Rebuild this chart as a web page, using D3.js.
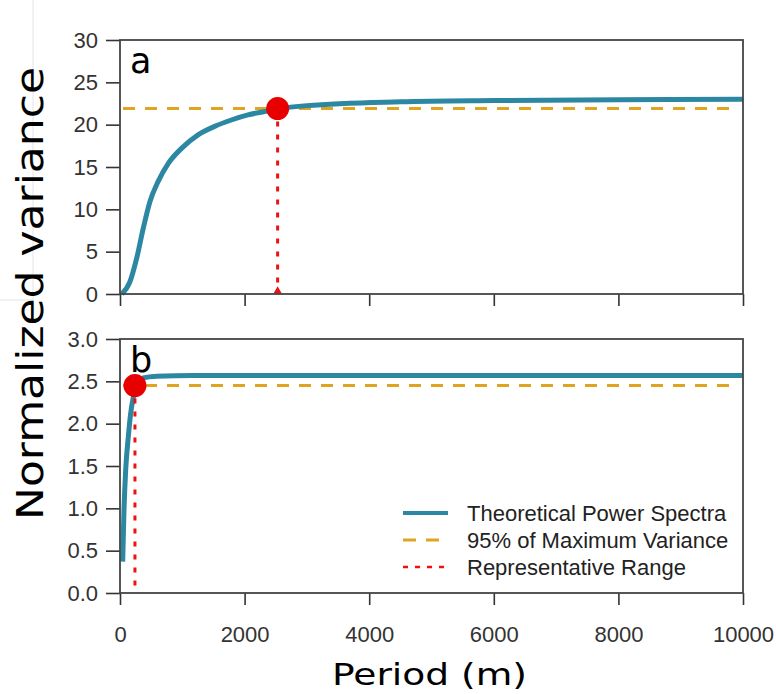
<!DOCTYPE html>
<html>
<head>
<meta charset="utf-8">
<script src="https://cdn.jsdelivr.net/npm/d3@7"></script>
<style>
  html, body { margin: 0; padding: 0; background: #fff; }
  svg { display: block; }
</style>
</head>
<body>
<svg id="chart" width="776" height="694"></svg>
<script>
// ── Data ─────────────────────────────────────────────────────────────────
// panel a: theoretical power spectrum (period m, normalized variance)
const periodA   = [30, 160, 267, 373, 480, 613, 773, 987, 1253, 1520, 1787, 2053, 2320, 2530, 3000, 4500, 6000, 8000, 10000];
const varianceA = [0, 1.45, 4.2, 7.75, 10.9, 13.3, 15.4, 17.2, 18.8, 19.8, 20.55, 21.15, 21.55, 21.85, 22.25, 22.7, 22.85, 22.95, 23.0];
const thresholdA = 21.9;          // 95% of maximum variance
const rangeA     = [2530, 21.9];  // representative range point

// panel b
const periodB   = [43, 64, 91, 134, 171, 214, 267, 373, 587, 1173, 3000, 6000, 10000];
const varianceB = [0.37, 0.98, 1.45, 1.85, 2.12, 2.31, 2.46, 2.54, 2.56, 2.57, 2.57, 2.57, 2.57];
const thresholdB = 2.45;
const rangeB     = [240, 2.45];

const xTicks  = [0, 2000, 4000, 6000, 8000, 10000];
const yTicksA = [0, 5, 10, 15, 20, 25, 30];
const yTicksB = [0, 0.5, 1.0, 1.5, 2.0, 2.5, 3.0];

const legendItems = ['Theoretical Power Spectra', '95% of Maximum Variance', 'Representative Range'];

// ── Styles ───────────────────────────────────────────────────────────────
const TEAL = '#2c87a3';
const GOLD = '#e0a520';
const RED  = '#ee1111';
const DOT  = '#e80000';
const AXIS = '#333';
const TICK_FONT = '"Liberation Sans", Arial, sans-serif';
const LABEL_FONT = '"DejaVu Sans", Verdana, sans-serif';

const svg = d3.select('#chart');

// faint scan artefacts seen in the reference
svg.append('line').attr('x1', 33).attr('x2', 33).attr('y1', 0).attr('y2', 300)
  .attr('stroke', '#e4e4e4').attr('stroke-width', 1);
svg.append('line').attr('x1', 0).attr('x2', 33).attr('y1', 300).attr('y2', 300)
  .attr('stroke', '#e4e4e4').attr('stroke-width', 1);

const x = d3.scaleLinear().domain([0, 10000]).range([120, 743]);

const panels = [
  { label: 'a', top: 40,  bottom: 294, ymax: 30, ticks: yTicksA, fmt: d3.format('d'),
    px: periodA, py: varianceA, thr: thresholdA, pt: rangeA, xLabels: false },
  { label: 'b', top: 339, bottom: 593, ymax: 3, ticks: yTicksB, fmt: d3.format('.1f'),
    px: periodB, py: varianceB, thr: thresholdB, pt: rangeB, xLabels: true }
];

panels.forEach(p => {
  const y = d3.scaleLinear().domain([0, p.ymax]).range([p.bottom, p.top]);
  const g = svg.append('g');

  // y axis
  const yAxis = g.append('g')
    .attr('transform', `translate(${x(0)},0)`)
    .call(d3.axisLeft(y).tickValues(p.ticks).tickFormat(p.fmt)
      .tickSize(14).tickSizeOuter(0).tickPadding(8));
  yAxis.select('.domain').remove();

  // x axis
  const xAxis = g.append('g')
    .attr('transform', `translate(0,${p.bottom})`)
    .call(d3.axisBottom(x).tickValues(xTicks)
      .tickFormat(p.xLabels ? d3.format('d') : () => '')
      .tickSize(12).tickSizeOuter(0).tickPadding(21));
  xAxis.select('.domain').remove();

  [yAxis, xAxis].forEach(a => {
    a.selectAll('.tick line').attr('stroke', AXIS).attr('stroke-width', 1.6);
    a.selectAll('.tick text')
      .attr('fill', '#333')
      .style('font-family', TICK_FONT)
      .style('font-size', '22px');
  });

  // threshold (dashed gold)
  g.append('line')
    .attr('x1', x(0) + 3).attr('x2', x(9850))
    .attr('y1', y(p.thr)).attr('y2', y(p.thr))
    .attr('stroke', GOLD).attr('stroke-width', 3)
    .attr('stroke-dasharray', '12 10');

  // spectrum curve
  const line = d3.line()
    .x((d, i) => x(p.px[i]))
    .y(d => y(d))
    .curve(d3.curveMonotoneX);
  g.append('path')
    .datum(p.py)
    .attr('d', line)
    .attr('fill', 'none')
    .attr('stroke', TEAL)
    .attr('stroke-width', 5)
    .attr('stroke-linecap', 'butt');

  // representative range (dotted red)
  g.append('line')
    .attr('x1', x(p.pt[0])).attr('x2', x(p.pt[0]))
    .attr('y1', y(p.pt[1])).attr('y2', y(0))
    .attr('stroke', RED).attr('stroke-width', 3)
    .attr('stroke-dasharray', '5 8');
  if (p.label === 'a') {
    g.append('path')
      .attr('d', d3.symbol(d3.symbolTriangle, 30)())
      .attr('transform', `translate(${x(p.pt[0])},${y(0) - 3})`)
      .attr('fill', RED);
  }
  g.append('circle')
    .attr('cx', x(p.pt[0])).attr('cy', y(p.pt[1]))
    .attr('r', 11.5)
    .attr('fill', DOT);

  // frame
  g.append('rect')
    .attr('x', x(0)).attr('y', p.top)
    .attr('width', x(10000) - x(0)).attr('height', p.bottom - p.top)
    .attr('fill', 'none').attr('stroke', '#444').attr('stroke-width', 1.8);

  // panel letter
  g.append('text')
    .attr('x', 130).attr('y', p.top + 33)
    .style('font-family', LABEL_FONT)
    .style('font-size', '35px')
    .attr('fill', '#000')
    .text(p.label);
});

// ── Legend (panel b) ──────────────────────────────────────────────────────
const legendY = [513, 540, 567];
const legendStyle = [
  { stroke: TEAL, width: 4,   dash: null },
  { stroke: GOLD, width: 3,   dash: '13 10' },
  { stroke: RED,  width: 2.5, dash: '5 7' }
];
const legend = svg.append('g');
legendItems.forEach((t, i) => {
  legend.append('line')
    .attr('x1', 403).attr('x2', 448)
    .attr('y1', legendY[i]).attr('y2', legendY[i])
    .attr('stroke', legendStyle[i].stroke)
    .attr('stroke-width', legendStyle[i].width)
    .attr('stroke-dasharray', legendStyle[i].dash);
  legend.append('text')
    .attr('x', 467).attr('y', legendY[i] + 8)
    .style('font-family', TICK_FONT)
    .style('font-size', '22px')
    .attr('fill', '#222')
    .text(t);
});

// ── Axis titles ───────────────────────────────────────────────────────────
svg.append('text')
  .attr('transform', 'translate(43,293.5) rotate(-90)')
  .attr('text-anchor', 'middle')
  .attr('textLength', 453)
  .attr('lengthAdjust', 'spacingAndGlyphs')
  .style('font-family', LABEL_FONT)
  .style('font-size', '38px')
  .attr('fill', '#000')
  .text('Normalized variance');

svg.append('text')
  .attr('x', 429.5).attr('y', 685)
  .attr('text-anchor', 'middle')
  .attr('textLength', 195)
  .attr('lengthAdjust', 'spacingAndGlyphs')
  .style('font-family', LABEL_FONT)
  .style('font-size', '31px')
  .attr('fill', '#000')
  .text('Period (m)');
</script>
</body>
</html>
